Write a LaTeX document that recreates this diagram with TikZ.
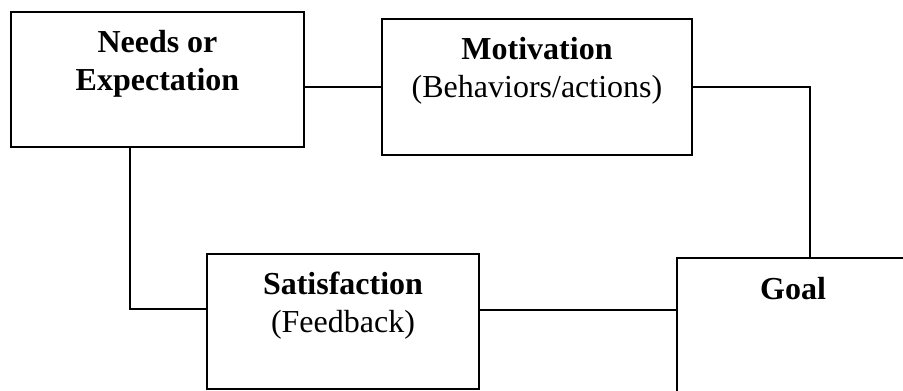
\documentclass[tikz,border=0pt]{standalone}
\usepackage{fontspec}
\setmainfont{Liberation Serif}
\usetikzlibrary{calc}
\tikzset{
	box/.style={draw, line width=1.3pt, inner sep=0pt, minimum height=101.25pt},
	title/.style={font=\fontsize{24}{28.5}\selectfont, align=center, anchor=base, yshift=-30.75pt},
	twoline/.style={title, yshift=-28.5pt},
	wire/.style={line width=1.1pt}
}

\begin{document}
\begin{tikzpicture}[x=0.75pt, y=-0.75pt]
			%%%%% START %%%%%
			
			\useasboundingbox (0, 0) rectangle (903, 391);
			
			\node[box, minimum width=219.75pt, label={[twoline]north:{\bfseries Needs or}\\{\bfseries Expectation}}] (needs) at (157.5, 79.5) {};
			\node[box, minimum width=232.5pt, minimum height=102pt, label={[twoline]north:{\bfseries Motivation}\\(Behaviors/actions)}] (motiv) at (537, 87) {};
			\node[box, minimum width=204pt, label={[twoline]north:{\bfseries Satisfaction}\\(Feedback)}] (satis) at (343, 321.5) {};
			\node[box, overlay, minimum width=174pt, label={[title, yshift=-0.75pt]north:{\bfseries Goal}}] (goal) at (793, 325.5) {};
			
			\coordinate (gtop) at ($(goal.north)+(17, 0)$);
			\coordinate (ndrop) at ($(needs.south)+(-27.5, 0)$);
			\coordinate (sfeed) at ($(satis.west)+(0, -12.5)$);
			\coordinate (gfeed) at ($(satis.east)+(0, -11.5)$);
			
			\draw[wire] (motiv.west -| needs.east) -- (motiv.west);
			\draw[wire] (motiv.east) -| (gtop);
			\draw[wire] (ndrop) |- (sfeed);
			\draw[wire] (gfeed) -- (gfeed -| goal.west);
			
			%%%%% END %%%%%
\end{tikzpicture}
\end{document}
